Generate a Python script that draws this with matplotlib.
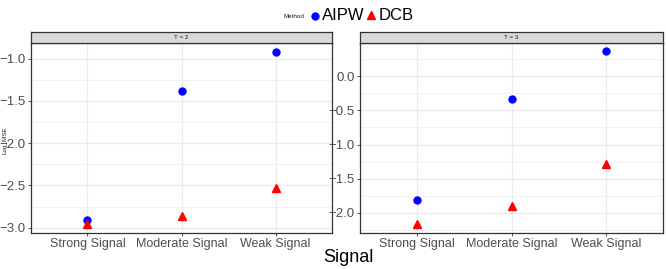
import matplotlib
matplotlib.use("Agg")
import matplotlib.pyplot as plt
from matplotlib.lines import Line2D
import numpy as np

plt.rcParams['font.family'] = ['Liberation Sans', 'DejaVu Sans']

categories = ["Strong Signal", "Moderate Signal", "Weak Signal"]
panels = ["T = 2", "T = 3"]
methods = ["AIPW", "DCB"]
aipw_T2 = [-2.91, -1.386, -0.925]
dcb_T2 = [-2.96, -2.86, -2.53]
aipw_T3 = [-1.804, -0.333, 0.368]
dcb_T3 = [-2.16, -1.90, -1.28]
yticks_T2 = [-3.0, -2.5, -2.0, -1.5, -1.0]
yticks_T3 = [-2.0, -1.5, -1.0, -0.5, 0.0]
ylim_T2 = (-3.056, -0.819)
ylim_T3 = (-2.285, 0.478)

W, H = 666, 269
fig = plt.figure(figsize=(W / 100, H / 100), dpi=100)

def px(x0, y0, x1, y1):
    return [x0 / W, 1 - y1 / H, (x1 - x0) / W, (y1 - y0) / H]

border = '#333333'
gridc = '#EBEBEB'
blue = '#0000FF'
red = '#FF0000'

def draw_panel(rect, strip_rect, title, aipw, dcb, yticks, ylim):
    ax = fig.add_axes(px(*rect))
    x = np.arange(1, len(categories) + 1)
    ax.set_xlim(0.4, 3.6)
    ax.set_ylim(*ylim)
    ax.set_xticks(x)
    ax.set_xticklabels(categories, fontsize=9, color='#4D4D4D')
    ax.set_yticks(yticks)
    ax.set_yticklabels([f"{v:.1f}".replace('-', '\u2212') for v in yticks],
                       fontsize=9.5, color='#4D4D4D')
    minor = [(a + b) / 2 for a, b in zip(yticks[:-1], yticks[1:])]
    lo, hi = ylim
    step = yticks[1] - yticks[0]
    if yticks[0] - step / 2 > lo:
        minor.insert(0, yticks[0] - step / 2)
    if yticks[-1] + step / 2 < hi:
        minor.append(yticks[-1] + step / 2)
    ax.set_yticks(minor, minor=True)
    ax.tick_params(axis='y', which='minor', length=0)
    ax.tick_params(axis='both', which='major', length=2.5, width=0.6,
                   color=border, pad=1.5)
    ax.grid(True, which='major', color=gridc, linewidth=0.9)
    ax.grid(True, which='minor', axis='y', color=gridc, linewidth=0.5)
    ax.set_axisbelow(True)
    for s in ax.spines.values():
        s.set_color(border)
        s.set_linewidth(0.9)
    ax.plot(x, aipw, 'o', color=blue, markersize=5, zorder=3, clip_on=False)
    ax.plot(x, dcb, '^', color=red, markersize=6, zorder=3, clip_on=False)
    sax = fig.add_axes(px(*strip_rect))
    sax.set_facecolor('#D9D9D9')
    sax.set_xticks([])
    sax.set_yticks([])
    for s in sax.spines.values():
        s.set_color(border)
        s.set_linewidth(0.9)
    sax.text(0.5, 0.5, title, ha='center', va='center', fontsize=4.5,
             color='#1A1A1A', transform=sax.transAxes)
    return ax

ax1 = draw_panel((31, 43.3, 332, 232.5), (31, 32, 332, 43.3), panels[0],
                 aipw_T2, dcb_T2, yticks_T2, ylim_T2)
ax2 = draw_panel((360, 43.3, 663, 232.5), (360, 32, 663, 43.3), panels[1],
                 aipw_T3, dcb_T3, yticks_T3, ylim_T3)

fig.text(5 / W, 1 - 140 / H, "Log_MSE", rotation=90, fontsize=4.5,
         ha='center', va='center', color='#1A1A1A')
fig.text(348 / W, 1 - 257 / H, "Signal", fontsize=13, ha='center', va='center')

# legend built by hand: title on the left, entries in a row
ly = 1 - 16 / H
fig.text(284 / W, ly, "Method", fontsize=4.5, ha='left', va='center', color='#1A1A1A')
fig.add_artist(Line2D([315 / W], [ly], marker='o', color=blue, markersize=5,
                      linestyle='None', transform=fig.transFigure))
fig.text(322 / W, ly, methods[0], fontsize=12, ha='left', va='center')
fig.add_artist(Line2D([371 / W], [ly + 1 / H], marker='^', color=red, markersize=6,
                      linestyle='None', transform=fig.transFigure))
fig.text(379 / W, ly, methods[1], fontsize=12, ha='left', va='center')

fig.savefig("out.png", dpi=100)
